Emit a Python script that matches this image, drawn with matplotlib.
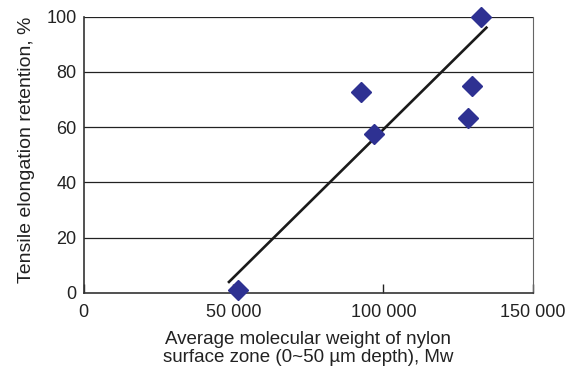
import matplotlib
matplotlib.use("Agg")
import matplotlib.pyplot as plt

# values
mw = [51400, 92700, 96800, 128400, 129600, 132700]
retention = [1.2, 72.8, 57.4, 63.2, 74.9, 100]
trend_x = [48500, 134400]
trend_y = [4, 96]
xticks = [0, 50000, 100000, 150000]
xtick_labels = ["0", "50 000", "100 000", "150 000"]
yticks = [0, 20, 40, 60, 80, 100]

plt.rcParams["font.family"] = ["Liberation Sans", "DejaVu Sans"]

fig = plt.figure(figsize=(5.69, 3.69), dpi=100)
ax = fig.add_axes([0.147, 0.206, 0.79, 0.749])

for yv in yticks[1:]:
    ax.axhline(yv, color="#222222", lw=0.9, zorder=1)

ax.plot(trend_x, trend_y, color="#1a1a1a", lw=1.9, zorder=2)
ax.plot(mw, retention, "D", color="#2E3192", ms=10, mec="#2E3192", zorder=3,
        clip_on=False)

ax.set_xlim(0, 150000)
ax.set_ylim(0, 100)
ax.set_xticks(xticks)
ax.set_xticklabels(xtick_labels)
ax.set_yticks(yticks)
ax.tick_params(direction="in", length=6.5, width=1, labelsize=13, colors="#222222")
ax.tick_params(axis="x", pad=8)
ax.tick_params(axis="y", length=0, pad=5)

for s in ["left", "bottom"]:
    ax.spines[s].set_color("#333333")
    ax.spines[s].set_linewidth(1.2)
ax.spines["right"].set_color("#666666")
ax.spines["top"].set_visible(False)

ax.set_ylabel("Tensile elongation retention, %", fontsize=14, color="#222222")
ax.yaxis.set_label_coords(-0.108, 0.518)
ax.set_xlabel("Average molecular weight of nylon\nsurface zone (0~50 \u00b5m depth), Mw",
              fontsize=13.5, color="#222222", labelpad=7, linespacing=1.08)

fig.savefig("out.png", dpi=100)
